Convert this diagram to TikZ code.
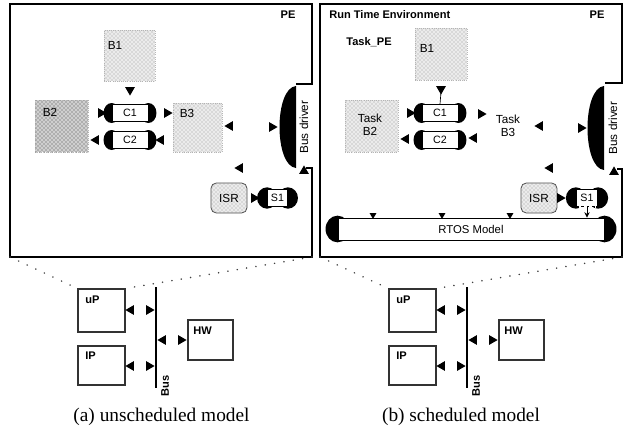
\documentclass[tikz,border=0pt]{standalone}
\usepackage{fontspec}
\setmainfont{Liberation Serif}
\newfontfamily\hv{Liberation Sans}
\usetikzlibrary{patterns,fit,arrows.meta}
\pgfdeclarelayer{bg}
\pgfsetlayers{bg,main}
\begin{document}
\begin{tikzpicture}[x=0.75pt,y=-0.75pt,
  lab/.style={font=\hv\fontsize{8.8}{10}\selectfont, inner sep=0pt},
  blab/.style={font=\hv\bfseries\fontsize{8.3}{10}\selectfont, inner sep=0pt},
  captext/.style={font=\fontsize{14.5}{16}\selectfont, inner sep=0pt},
  stip/.style={inner sep=0pt, fill=gray!16, draw=gray!55, densely dotted, line width=0.6pt,
     postaction={pattern=crosshatch dots, pattern color=gray!80}},
  stipd/.style={stip, fill=gray!38, postaction={pattern=crosshatch dots, pattern color=gray!90!black}},
  isr/.style={stip, draw=black!70, solid, rounded corners=4pt},
  chan/.style={draw, fill=white, line width=0.7pt, inner sep=0pt, font=\hv\fontsize{8}{9}\selectfont,
     minimum width=27pt, minimum height=12.75pt},
  box/.style={draw=black!80, line width=0.8pt, inner sep=0pt},
  pe/.style={line width=0.9pt},
  zoomline/.style={line width=1.2pt, line cap=round, dash pattern=on 0.1pt off 7pt, black!75},
  tri/.pic={\fill (0:4.2pt) -- (120:4.2pt) -- (240:4.2pt) -- cycle;},
  stri/.pic={\fill (0:3pt) -- (120:3pt) -- (240:3pt) -- cycle;}
]
\useasboundingbox (0,0) rectangle (627,432);

% ================= Panel (a) =================
\draw[pe] (296,84) -- (312,84) -- (312,4) -- (10,4) -- (10,257) -- (312,257) -- (312,168) -- (306,168);
\coordinate (a-bl) at (10,257);
\coordinate (a-br) at (312,257);
\fill (296,86) .. controls (274,88) and (274,166) .. (296,168) -- cycle;
\node[lab, rotate=90] (a-bd) at (304,127) {Bus driver};
\node[blab] (a-pe) at (288,15) {PE};

\node[stip, fit={(104,30) (155,81)}] (a-b1) {};
\node[lab] (a-b1t) at (115,45) {B1};
\pic[rotate=-90] at (130,90) {tri};

\node[stipd, fit={(35,100) (88,152)}] (a-b2) {};
\node[lab] (a-b2t) at (50,112) {B2};
\node[stip, fit={(173,103) (222,152)}] (a-b3) {};
\node[lab] (a-b3t) at (187,113) {B3};

\node[chan] (a-c1) at (130,113) {C1};
\node[chan] (a-c2) at (130,140) {C2};
\pic at (101,113) {tri};
\pic at (167,113) {tri};
\pic[rotate=180] at (96,140) {tri};
\pic[rotate=180] at (161,140) {tri};

\pic[rotate=180] at (230,126) {tri};
\pic at (272,127) {tri};
\pic[rotate=180] at (240,168) {tri};
\pic[rotate=90] at (304,171) {tri};

\node[isr, fit={(211,183) (247,213)}] (a-isr) {};
\node[lab] (a-isrt) at (229,198) {ISR};
\node[chan, minimum width=15pt] (a-s1) at (277.5,198) {S1};
\pic at (254,198) {tri};

% ================= Panel (b) =================
\draw[pe] (605,83) -- (622,83) -- (622,4) -- (320,4) -- (320,257) -- (622,257) -- (622,169) -- (617,169);
\coordinate (b-bl) at (320,257);
\coordinate (b-br) at (622,257);
\fill (604,86) .. controls (582,88) and (582,168) .. (604,170) -- cycle;
\node[lab, rotate=90] (b-bd) at (613,128) {Bus driver};
\node[blab, anchor=west] (b-rte) at (329,15) {Run Time Environment};
\node[blab] (b-pe) at (597,15) {PE};
\node[blab] (b-taskpe) at (369,42) {Task\_PE};

\node[stip, fit={(415,28) (467,80)}] (b-b1) {};
\node[lab] (b-b1t) at (427,48) {B1};
\pic[rotate=-90] at (441,89) {tri};
\coordinate (b-t1) at (441,92);

\node[stip, fit={(345,100) (398,152)}] (b-b2) {};
\node[lab, align=center] (b-b2t) at (370,125) {Task\\B2};
\node[lab, align=center] (b-b3t) at (508,126) {Task\\B3};

\node[chan] (b-c1) at (440,113) {C1};
\node[chan] (b-c2) at (440,140) {C2};
\draw[line width=0.5pt] (b-t1) -- (b-c1.north);
\pic at (410,113) {tri};
\pic at (481,114) {tri};
\pic[rotate=180] at (406,139) {tri};
\pic[rotate=180] at (474,138) {tri};

\pic[rotate=180] at (540,126) {tri};
\pic at (581,128) {tri};
\pic[rotate=180] at (550,168) {tri};
\pic[rotate=90] at (614,172) {tri};

\node[isr, fit={(521,183) (557,213)}] (b-isr) {};
\node[lab] (b-isrt) at (539,198) {ISR};
\node[chan, minimum width=16pt] (b-s1) at (587,198) {S1};
\draw[white, line width=1pt, dash pattern=on 2pt off 2pt] ([xshift=2pt]b-s1.south west) -- ([xshift=-2pt]b-s1.south east);
\pic at (560,198) {tri};

\node[chan, minimum width=199.5pt, minimum height=16.5pt, font=\hv\fontsize{8.5}{10}\selectfont] (b-rtos) at (471,229) {RTOS Model};
\draw[line width=0.7pt, -{Stealth[length=4pt,width=4pt]}] (b-s1.south) -- (b-s1.south |- b-rtos.north);
\pic[rotate=-90] at (373,215) {stri};
\pic[rotate=-90] at (442,215) {stri};
\pic[rotate=-90] at (510,215) {stri};

% black channel ends
\begin{pgfonlayer}{bg}
  \foreach \n in {a-c1,a-c2,b-c1,b-c2}{
    \fill (\n.west) ellipse[x radius=6pt, y radius=7.5pt];
    \fill (\n.east) ellipse[x radius=6pt, y radius=7.5pt];
  }
  \foreach \n in {a-s1,b-s1}{
    \fill (\n.west) ellipse[x radius=7.5pt, y radius=8pt];
    \fill (\n.east) ellipse[x radius=7.5pt, y radius=8pt];
  }
  \fill (b-rtos.west) ellipse[x radius=9pt, y radius=10pt];
  \fill (b-rtos.east) ellipse[x radius=9pt, y radius=10pt];
\end{pgfonlayer}

% ================= Bottom platform views =================
\foreach \p/\dx in {a/0,b/233.25}{
  \begin{scope}[xshift=\dx pt, name prefix=\p-]
    \node[box, minimum width=35.25pt, minimum height=32.25pt] (up) at (101.5,310.5) {};
    \node[blab, anchor=west] (upt) at (85,300) {uP};
    \node[box, minimum width=35.25pt, minimum height=29.25pt] (ip) at (101.5,365.5) {};
    \node[blab, anchor=west] (ipt) at (85,356) {IP};
    \node[box, minimum width=33.75pt, minimum height=30pt] (hw) at (210.5,340) {};
    \node[blab, anchor=west] (hwt) at (193,331) {HW};
    \coordinate (bt) at (156,287);
    \coordinate (bb) at (156,388);
    \draw[line width=1.5pt] (bt) -- (bb);
    \node[blab, rotate=90] (bus) at (165,386) {Bus};
    \pic[rotate=180] at (131,310) {tri};
    \pic at (149,310) {tri};
    \pic[rotate=180] at (163,340) {tri};
    \pic at (181,340) {tri};
    \pic[rotate=180] at (131,366) {tri};
    \pic at (149,366) {tri};
  \end{scope}
}
\draw[zoomline] (a-bl) -- (a-up.north west);
\draw[zoomline] (a-br) -- (a-up.north east);
\draw[zoomline] (b-bl) -- (b-up.north west);
\draw[zoomline] (b-br) -- (b-up.north east);

\node[captext] (capa) at (161.5,417) {(a) unscheduled model};
\node[captext] (capb) at (461,417) {(b) scheduled model};
\end{tikzpicture}
\end{document}
